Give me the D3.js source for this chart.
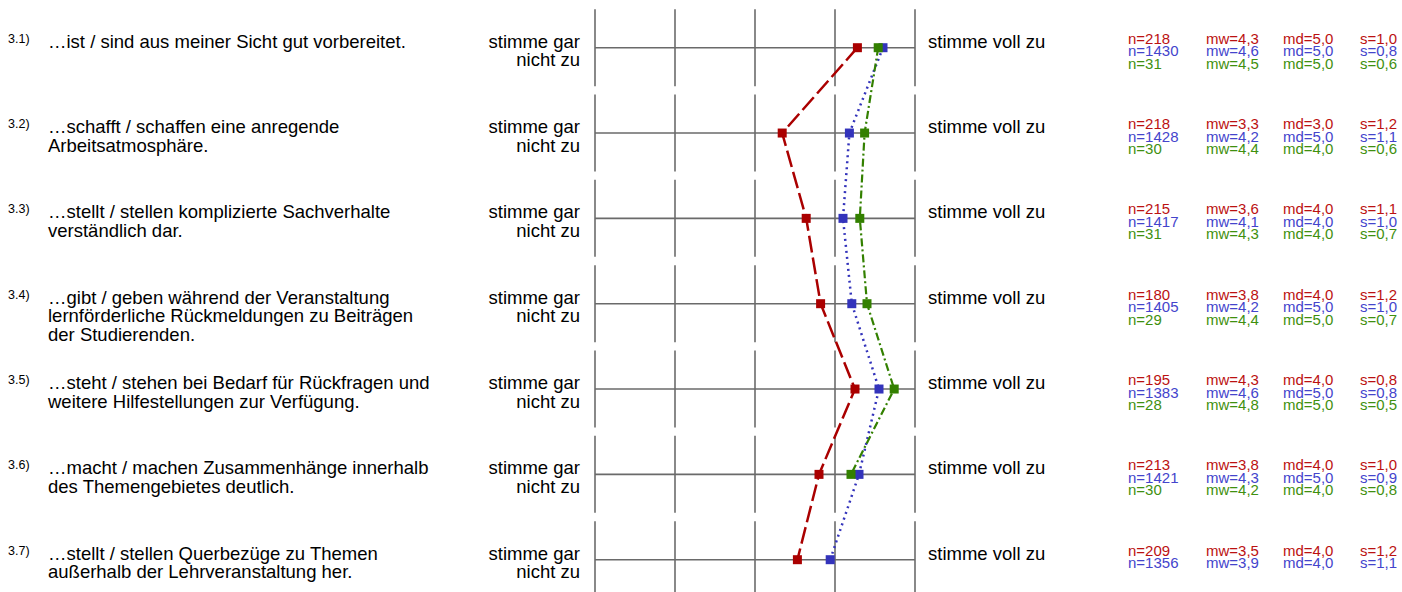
<!DOCTYPE html>
<html>
<head>
<meta charset="utf-8">
<script src="https://cdn.jsdelivr.net/npm/d3@7"></script>
<style>
  body { margin: 0; background: #fff; }
  text { font-family: "Liberation Sans", Arial, sans-serif; }
</style>
</head>
<body>
<svg id="profil" width="1402" height="592"></svg>
<script>
var svg = d3.select("#profil"),
  width = +svg.attr("width"),
  height = +svg.attr("height");

// Data
var ids = ["3.1)", "3.2)", "3.3)", "3.4)", "3.5)", "3.6)", "3.7)"];
var questions = [
  ["…ist / sind aus meiner Sicht gut vorbereitet."],
  ["…schafft / schaffen eine anregende", "Arbeitsatmosphäre."],
  ["…stellt / stellen komplizierte Sachverhalte", "verständlich dar."],
  ["…gibt / geben während der Veranstaltung", "lernförderliche Rückmeldungen zu Beiträgen", "der Studierenden."],
  ["…steht / stehen bei Bedarf für Rückfragen und", "weitere Hilfestellungen zur Verfügung."],
  ["…macht / machen Zusammenhänge innerhalb", "des Themengebietes deutlich."],
  ["…stellt / stellen Querbezüge zu Themen", "außerhalb der Lehrveranstaltung her."]
];
var leftPole = ["stimme gar", "nicht zu"];
var rightPole = "stimme voll zu";
var scaleValues = [1, 2, 3, 4, 5];

// mean positions (null = no data)
var meanRed   = [4.28, 3.34, 3.64, 3.82, 4.25, 3.80, 3.53];
var meanBlue  = [4.60, 4.18, 4.10, 4.21, 4.55, 4.30, 3.94];
var meanGreen = [4.54, 4.37, 4.31, 4.40, 4.74, 4.20, null];

// statistics texts
var nRed   = [218, 218, 215, 180, 195, 213, 209];
var nBlue  = [1430, 1428, 1417, 1405, 1383, 1421, 1356];
var nGreen = [31, 30, 31, 29, 28, 30, null];
var mwRed   = ["4,3", "3,3", "3,6", "3,8", "4,3", "3,8", "3,5"];
var mwBlue  = ["4,6", "4,2", "4,1", "4,2", "4,6", "4,3", "3,9"];
var mwGreen = ["4,5", "4,4", "4,3", "4,4", "4,8", "4,2", null];
var mdRed   = ["5,0", "3,0", "4,0", "4,0", "4,0", "4,0", "4,0"];
var mdBlue  = ["5,0", "5,0", "4,0", "5,0", "5,0", "5,0", "4,0"];
var mdGreen = ["5,0", "4,0", "4,0", "5,0", "5,0", "4,0", null];
var sRed   = ["1,0", "1,2", "1,1", "1,2", "0,8", "1,0", "1,2"];
var sBlue  = ["0,8", "1,1", "1,0", "1,0", "0,8", "0,9", "1,1"];
var sGreen = ["0,6", "0,6", "0,7", "0,7", "0,5", "0,8", null];

var series = [
  {name: "red",   mean: meanRed,   n: nRed,   mw: mwRed,   md: mdRed,   s: sRed,
   color: "#aa0000", textColor: "#bb1111", dash: "17,5", width: 2.5},
  {name: "blue",  mean: meanBlue,  n: nBlue,  mw: mwBlue,  md: mdBlue,  s: sBlue,
   color: "#3333bb", textColor: "#4444cc", dash: "2,4", width: 2.5},
  {name: "green", mean: meanGreen, n: nGreen, mw: mwGreen, md: mdGreen, s: sGreen,
   color: "#338000", textColor: "#3f900f", dash: "8,3,2,3", width: 2.2}
];

// Scales
var x = d3.scaleLinear().domain([1, 5]).range([595, 915]);
var y = d3.scalePoint().domain(ids).range([47.7, 559.7]);
var half = 38.5;

// Grid per item
var rows = svg.append("g").selectAll("g")
  .data(ids)
  .enter().append("g")
  .attr("transform", function(d) { return "translate(0," + y(d) + ")"; });

rows.selectAll("line.v")
  .data(scaleValues)
  .enter().append("line")
  .attr("class", "v")
  .attr("x1", function(d) { return x(d); })
  .attr("x2", function(d) { return x(d); })
  .attr("y1", -half)
  .attr("y2", half)
  .attr("stroke", "#7c7c7c")
  .attr("stroke-width", 1.8);

rows.append("line")
  .attr("x1", x(1))
  .attr("x2", x(5))
  .attr("stroke", "#6a6a6a")
  .attr("stroke-width", 1.6);

// item number + question
rows.append("text")
  .attr("x", 8)
  .attr("y", -5)
  .style("font-size", "12.5px")
  .attr("fill", "#000")
  .text(function(d) { return d; });

rows.append("text")
  .attr("x", 48)
  .style("font-size", "18.5px")
  .attr("fill", "#000")
  .selectAll("tspan")
  .data(function(d, i) { return questions[i]; })
  .enter().append("tspan")
  .attr("x", 48)
  .attr("y", function(d, i) { return i * 18.5; })
  .text(function(d) { return d; });

// poles
rows.append("text")
  .attr("text-anchor", "end")
  .style("font-size", "18.5px")
  .selectAll("tspan")
  .data(leftPole)
  .enter().append("tspan")
  .attr("x", 580)
  .attr("y", function(d, i) { return i * 18.5; })
  .text(function(d) { return d; });

rows.append("text")
  .attr("x", 928)
  .style("font-size", "18.5px")
  .text(rightPole);

// Profile lines
series.forEach(function(s) {
  var pts = ids.map(function(id, i) { return {id: id, v: s.mean[i]}; })
    .filter(function(d) { return d.v != null; });

  var line = d3.line()
    .x(function(d) { return x(d.v); })
    .y(function(d) { return y(d.id); });

  svg.append("path")
    .datum(pts)
    .attr("d", line)
    .attr("fill", "none")
    .attr("stroke", s.color)
    .attr("stroke-width", s.width)
    .attr("stroke-dasharray", s.dash);
});

series.forEach(function(s) {
  var pts = ids.map(function(id, i) { return {id: id, v: s.mean[i]}; })
    .filter(function(d) { return d.v != null; });
  svg.append("g").selectAll("rect")
    .data(pts)
    .enter().append("rect")
    .attr("x", function(d) { return x(d.v) - 4.5; })
    .attr("y", function(d) { return y(d.id) - 4.5; })
    .attr("width", 9)
    .attr("height", 9)
    .attr("fill", s.color);
});

// Statistics
var cols = [
  {key: "n",  label: "n=",  x: 1128},
  {key: "mw", label: "mw=", x: 1206},
  {key: "md", label: "md=", x: 1283},
  {key: "s",  label: "s=",  x: 1360}
];
series.forEach(function(s, k) {
  ids.forEach(function(id, i) {
    if (s.n[i] == null) return;
    cols.forEach(function(c) {
      svg.append("text")
        .attr("x", c.x)
        .attr("y", y(id) - 4 + k * 12.5)
        .style("font-size", "15px")
        .attr("fill", s.textColor)
        .text(c.label + s[c.key][i]);
    });
  });
});
</script>
</body>
</html>
